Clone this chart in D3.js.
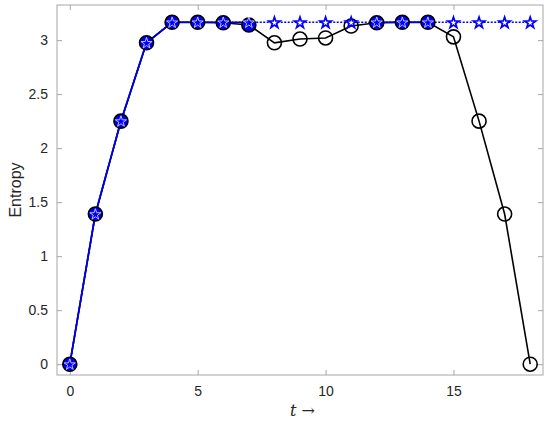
<!DOCTYPE html>
<html><head><meta charset="utf-8">
<script src="https://cdn.jsdelivr.net/npm/d3@7"></script>
<style>body{margin:0;background:#fff;} svg{display:block;}</style>
</head><body>
<svg id="c" width="550" height="424"></svg>
<script>
const tValues = [0,1,2,3,4,5,6,7,8,9,10,11,12,13,14,15,16,17,18];
const entropyBlack = [0,1.39,2.25,2.975,3.165,3.165,3.16,3.14,2.975,3.01,3.02,3.13,3.16,3.165,3.165,3.03,2.25,1.39,0];
const entropyBlue  = [0,1.39,2.25,2.975,3.165,3.165,3.165,3.165,3.165,3.165,3.165,3.165,3.165,3.165,3.165,3.165,3.165,3.165,3.165];
const xTicks = [0,5,10,15];
const yTicks = [0,0.5,1,1.5,2,2.5,3];

const svg = d3.select("#c");
const L=57, R=543, T=5, B=375;
const x = d3.scaleLinear().domain([-0.5,18.5]).range([L,R]);
const y = d3.scaleLinear().domain([-0.1,3.325]).range([B,T]);
const axisColor="#a6a6a6", textColor="#262626";
const font="'Liberation Sans', Arial, sans-serif";

svg.append("rect").attr("x",L).attr("y",T).attr("width",R-L).attr("height",B-T)
  .attr("fill","none").attr("stroke",axisColor).attr("stroke-width",1);

const gx = svg.append("g").attr("transform",`translate(0,${B})`)
  .call(d3.axisBottom(x).tickValues(xTicks).tickSize(-5).tickPadding(11).tickFormat(d3.format("d")));
const gxt = svg.append("g").attr("transform",`translate(0,${T})`)
  .call(d3.axisTop(x).tickValues(xTicks).tickSize(-5).tickFormat(""));
const gy = svg.append("g").attr("transform",`translate(${L},0)`)
  .call(d3.axisLeft(y).tickValues(yTicks).tickSize(-5).tickPadding(9).tickFormat(d=>String(d)));
const gyr = svg.append("g").attr("transform",`translate(${R},0)`)
  .call(d3.axisRight(y).tickValues(yTicks).tickSize(-5).tickFormat(""));
[gx,gxt,gy,gyr].forEach(g=>{
  g.select(".domain").remove();
  g.selectAll(".tick line").attr("stroke",axisColor);
  g.selectAll("text").attr("fill",textColor).style("font-family",font).style("font-size","14px");
});

svg.append("text").attr("transform",`translate(21,${(T+B)/2}) rotate(-90)`)
  .attr("text-anchor","middle").attr("fill",textColor)
  .style("font-family",font).style("font-size","16px").text("Entropy");
const xl = svg.append("text").attr("x",x(9.1)).attr("y",416).attr("text-anchor","middle")
  .attr("fill",textColor).style("font-family","'DejaVu Serif', serif").style("font-size","16px");
xl.append("tspan").style("font-style","italic").text("t");
xl.append("tspan").text(" \u2192");

const ptsB = tValues.map((t,i)=>({t, v:entropyBlack[i]}));
const ptsS = tValues.map((t,i)=>({t, v:entropyBlue[i]}));
const same = i => Math.abs(entropyBlack[i]-entropyBlue[i])<0.025;

const line = d3.line().x(d=>x(d.t)).y(d=>y(d.v));
svg.append("path").datum(ptsB).attr("d",line).attr("fill","none").attr("stroke","#000").attr("stroke-width",1.6);
svg.append("path").datum(ptsS).attr("d",line).attr("fill","none").attr("stroke","#0000ff")
  .attr("stroke-width",1.6).attr("stroke-dasharray","2,1.5");
svg.append("path").datum(ptsS).attr("d",d3.line().defined((d,i)=>same(i)).x(d=>x(d.t)).y(d=>y(d.v)))
  .attr("fill","none").attr("stroke","#0000dd").attr("stroke-width",1.8);

svg.selectAll("circle.b").data(ptsB).join("circle").attr("class","b")
  .attr("cx",d=>x(d.t)).attr("cy",d=>y(d.v)).attr("r",7)
  .attr("fill",(d,i)=>same(i)?"#0000ff":"none").attr("stroke","#000").attr("stroke-width",1.6);

const star = d3.symbol().type(d3.symbolStar).size(38);
svg.selectAll("path.s").data(ptsS).join("path").attr("class","s")
  .attr("d",star).attr("transform",d=>`translate(${x(d.t)},${y(d.v)+0.5})`)
  .attr("fill",(d,i)=>same(i)?"#0000ff":"#ffffff")
  .attr("stroke",(d,i)=>same(i)?"#d0d0ff":"#0000ff").attr("stroke-width",(d,i)=>same(i)?0.9:1.7);
</script>
</body></html>
